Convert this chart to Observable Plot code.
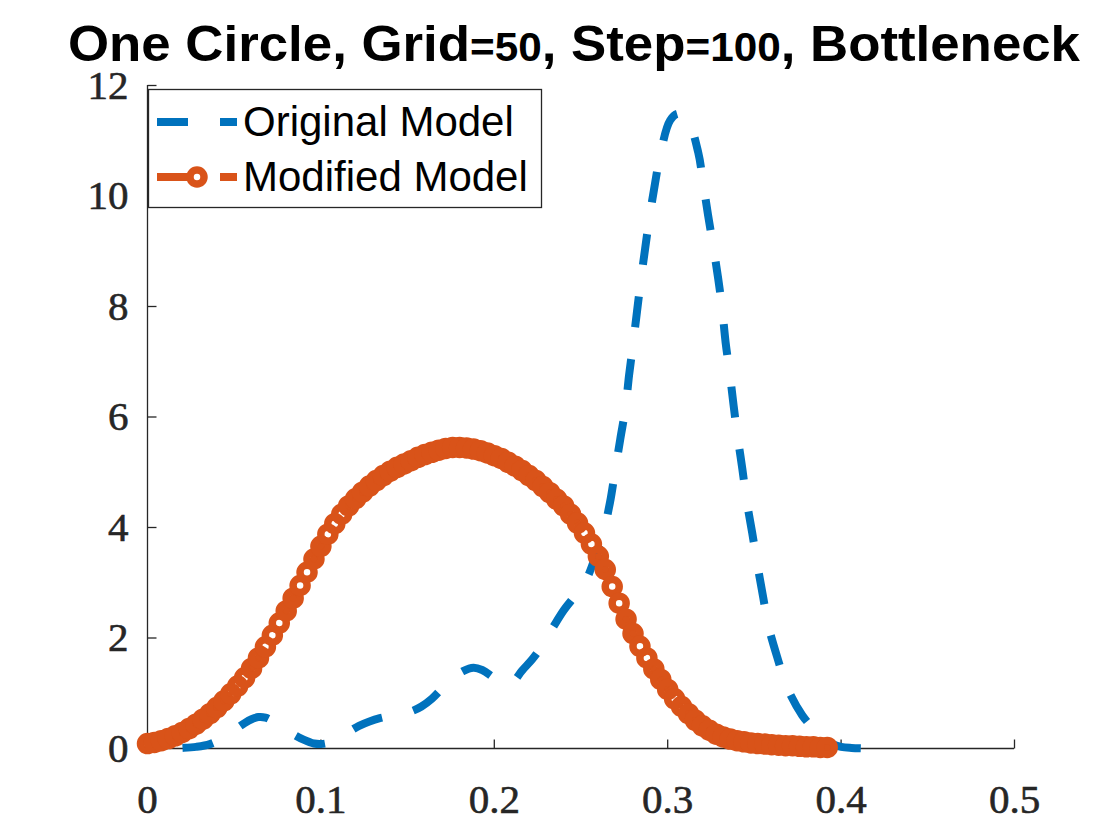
<!DOCTYPE html>
<html><head><meta charset="utf-8">
<script src="https://cdn.jsdelivr.net/npm/d3@7"></script>
<script src="https://cdn.jsdelivr.net/npm/@observablehq/plot@0.6"></script>
<style>
body{margin:0;background:#fff;}
#wrap{position:relative;width:1120px;height:840px;overflow:hidden;background:#fff;}
#title{position:relative;z-index:2;height:60px;}
#title svg{overflow:visible;display:block;}
#legend{position:absolute;left:0;top:0;z-index:3;pointer-events:none;}
#chart svg text{stroke:#262626;stroke-width:0.6px;}
</style></head><body>
<div id="wrap">
<div id="title"><svg width="1120" height="60">
<text x="68" y="61" textLength="1012" lengthAdjust="spacingAndGlyphs" font-family="Liberation Sans, Arial, sans-serif" font-weight="bold" font-size="50" fill="#000">One Circle, Grid<tspan font-size="40">=50</tspan>, Step<tspan font-size="40">=100</tspan>, Bottleneck</text>
</svg></div>
<div id="chart"></div>
</div>
<script>
const seriesNames = ["Original Model", "Modified Model"];
const xTicks = [0, 0.1, 0.2, 0.3, 0.4, 0.5];
const xLabels = ["0", "0.1", "0.2", "0.3", "0.4", "0.5"];
const yTicks = [0, 2, 4, 6, 8, 10, 12];
const yLabels = ["0", "2", "4", "6", "8", "10", "12"];

// Original Model (blue dashed)
const blueX = [0.000,0.010,0.020,0.028,0.036,0.044,0.050,0.056,0.060,0.064,0.068,0.072,0.078,0.084,0.090,0.096,0.100,0.104,0.110,0.116,0.122,0.128,0.134,0.140,0.146,0.152,0.158,0.164,0.170,0.176,0.182,0.188,0.193,0.198,0.202,0.206,0.210,0.216,0.222,0.228,0.234,0.240,0.246,0.250,0.254,0.258,0.2627,0.2667,0.2696,0.2727,0.2757,0.2777,0.2800,0.2823,0.2845,0.2870,0.2895,0.2927,0.2956,0.3014,0.3060,0.3112,0.3176,0.3204,0.3233,0.3262,0.3291,0.3314,0.3334,0.3358,0.3380,0.3403,0.3430,0.3455,0.3487,0.3516,0.3551,0.3580,0.3632,0.3689,0.3776,0.3850,0.3897,0.3950,0.4000,0.4060,0.4140];
const blueY = [0.00,0.00,0.01,0.03,0.08,0.20,0.33,0.46,0.53,0.57,0.56,0.50,0.38,0.26,0.16,0.09,0.08,0.10,0.19,0.30,0.41,0.49,0.55,0.59,0.62,0.67,0.76,0.90,1.09,1.27,1.40,1.46,1.42,1.32,1.22,1.16,1.18,1.41,1.62,1.88,2.20,2.50,2.74,2.90,3.12,3.45,3.89,4.45,5.01,5.61,6.17,6.75,7.31,7.91,8.47,9.05,9.61,10.23,10.73,11.37,11.49,11.40,10.79,10.24,9.65,9.10,8.51,7.96,7.35,6.79,6.21,5.65,5.07,4.49,3.91,3.35,2.73,2.23,1.65,1.10,0.60,0.33,0.20,0.08,0.03,0.01,0.00];

// Modified Model (orange, circle markers)
const orangeX = [0.000,0.004,0.008,0.012,0.016,0.020,0.024,0.028,0.032,0.036,0.040,0.044,0.048,0.052,0.056,0.060,0.064,0.068,0.072,0.076,0.080,0.084,0.088,0.092,0.096,0.100,0.104,0.108,0.112,0.116,0.120,0.124,0.128,0.132,0.136,0.140,0.144,0.148,0.152,0.156,0.160,0.164,0.168,0.172,0.176,0.180,0.184,0.188,0.192,0.196,0.200,0.204,0.208,0.212,0.216,0.220,0.224,0.228,0.232,0.236,0.240,0.244,0.248,0.252,0.256,0.260,0.264,0.268,0.272,0.276,0.280,0.284,0.288,0.292,0.296,0.300,0.304,0.308,0.312,0.316,0.320,0.324,0.328,0.332,0.336,0.340,0.344,0.348,0.352,0.356,0.360,0.364,0.368,0.372,0.376,0.380,0.384,0.388,0.392];
const orangeY = [0.09,0.11,0.14,0.18,0.23,0.29,0.36,0.44,0.53,0.63,0.74,0.86,0.99,1.13,1.28,1.45,1.64,1.84,2.05,2.27,2.49,2.72,2.95,3.19,3.43,3.66,3.88,4.07,4.24,4.39,4.52,4.64,4.75,4.85,4.94,5.02,5.09,5.15,5.21,5.27,5.32,5.36,5.40,5.43,5.45,5.45,5.44,5.42,5.39,5.35,5.30,5.25,5.18,5.11,5.03,4.94,4.85,4.74,4.63,4.51,4.39,4.24,4.08,3.90,3.70,3.48,3.24,2.93,2.63,2.34,2.08,1.85,1.64,1.44,1.25,1.07,0.90,0.76,0.63,0.51,0.41,0.33,0.26,0.21,0.17,0.14,0.12,0.10,0.09,0.08,0.07,0.06,0.05,0.05,0.04,0.03,0.03,0.02,0.02];

const blueColor = "#0072BD";
const orangeColor = "#D95319";
const axisColor = "#262626";

const blue = blueX.map((x, i) => ({x, y: blueY[i]}));
const orange = orangeX.map((x, i) => ({x, y: orangeY[i]}));

const tickUp = {draw(ctx) { ctx.moveTo(0, 0); ctx.lineTo(0, -9); }};
const tickRight = {draw(ctx) { ctx.moveTo(0, 0); ctx.lineTo(9, 0); }};

const chart = Plot.plot({
  width: 1120,
  height: 780,
  marginLeft: 147,
  marginRight: 106,
  marginTop: 25,
  marginBottom: 92,
  style: {background: "white", color: axisColor, overflow: "visible"},
  x: {domain: [0, 0.5]},
  y: {domain: [0, 12]},
  marks: [
    Plot.ruleY([0], {stroke: axisColor, strokeWidth: 1.3}),
    Plot.ruleX([0], {stroke: axisColor, strokeWidth: 1.3}),
    Plot.dot(xTicks, {x: d => d, y: () => 0, symbol: tickUp, r: 5, stroke: axisColor, strokeWidth: 1.3, fill: "none"}),
    Plot.dot(yTicks, {x: () => 0, y: d => d, symbol: tickRight, r: 5, stroke: axisColor, strokeWidth: 1.3, fill: "none"}),
    Plot.axisX({ticks: xTicks, tickFormat: d => xLabels[xTicks.indexOf(d)], tickSize: 0, tickPadding: 35, fontSize: 41, fontFamily: "Liberation Serif, serif", label: null}),
    Plot.axisY({ticks: yTicks, tickFormat: d => yLabels[yTicks.indexOf(d)], tickSize: 0, tickPadding: 19, fontSize: 41, fontFamily: "Liberation Serif, serif", label: null}),
    Plot.line(blue, {x: "x", y: "y", stroke: blueColor, strokeWidth: 8, strokeDasharray: "31,32", strokeDashoffset: 28, strokeLinecap: "butt", curve: "catmull-rom"}),
    Plot.line(orange, {x: "x", y: "y", stroke: orangeColor, strokeWidth: 8, strokeDasharray: "31,32", strokeLinecap: "butt"}),
    Plot.dot(orange, {x: "x", y: "y", r: 7, stroke: orangeColor, strokeWidth: 7.5, fill: "none"})
  ]
});
document.getElementById("chart").appendChild(chart);

// Legend overlay (inside the axes, top-left)
const ns = "http://www.w3.org/2000/svg";
const leg = document.createElementNS(ns, "svg");
leg.setAttribute("id", "legend");
leg.setAttribute("width", 1120);
leg.setAttribute("height", 840);
function el(tag, attrs, text) {
  const e = document.createElementNS(ns, tag);
  for (const k in attrs) e.setAttribute(k, attrs[k]);
  if (text) e.textContent = text;
  leg.appendChild(e);
  return e;
}
el("rect", {x: 148.5, y: 89.5, width: 393, height: 118, fill: "#fff", stroke: axisColor, "stroke-width": 1.3});
const rows = [
  {name: seriesNames[0], color: blueColor, y: 122, base: 136, marker: false},
  {name: seriesNames[1], color: orangeColor, y: 177, base: 191, marker: true}
];
for (const r of rows) {
  el("line", {x1: 157, x2: 237, y1: r.y, y2: r.y, stroke: r.color, "stroke-width": 8, "stroke-dasharray": "31,32"});
  if (r.marker) el("circle", {cx: 197, cy: r.y, r: 7, fill: "none", stroke: r.color, "stroke-width": 7.5});
  el("text", {x: 243, y: r.base, "font-family": "Liberation Sans, Arial, sans-serif", "font-size": 42, fill: "#000"}, r.name);
}
document.getElementById("wrap").appendChild(leg);
</script>
</body></html>
